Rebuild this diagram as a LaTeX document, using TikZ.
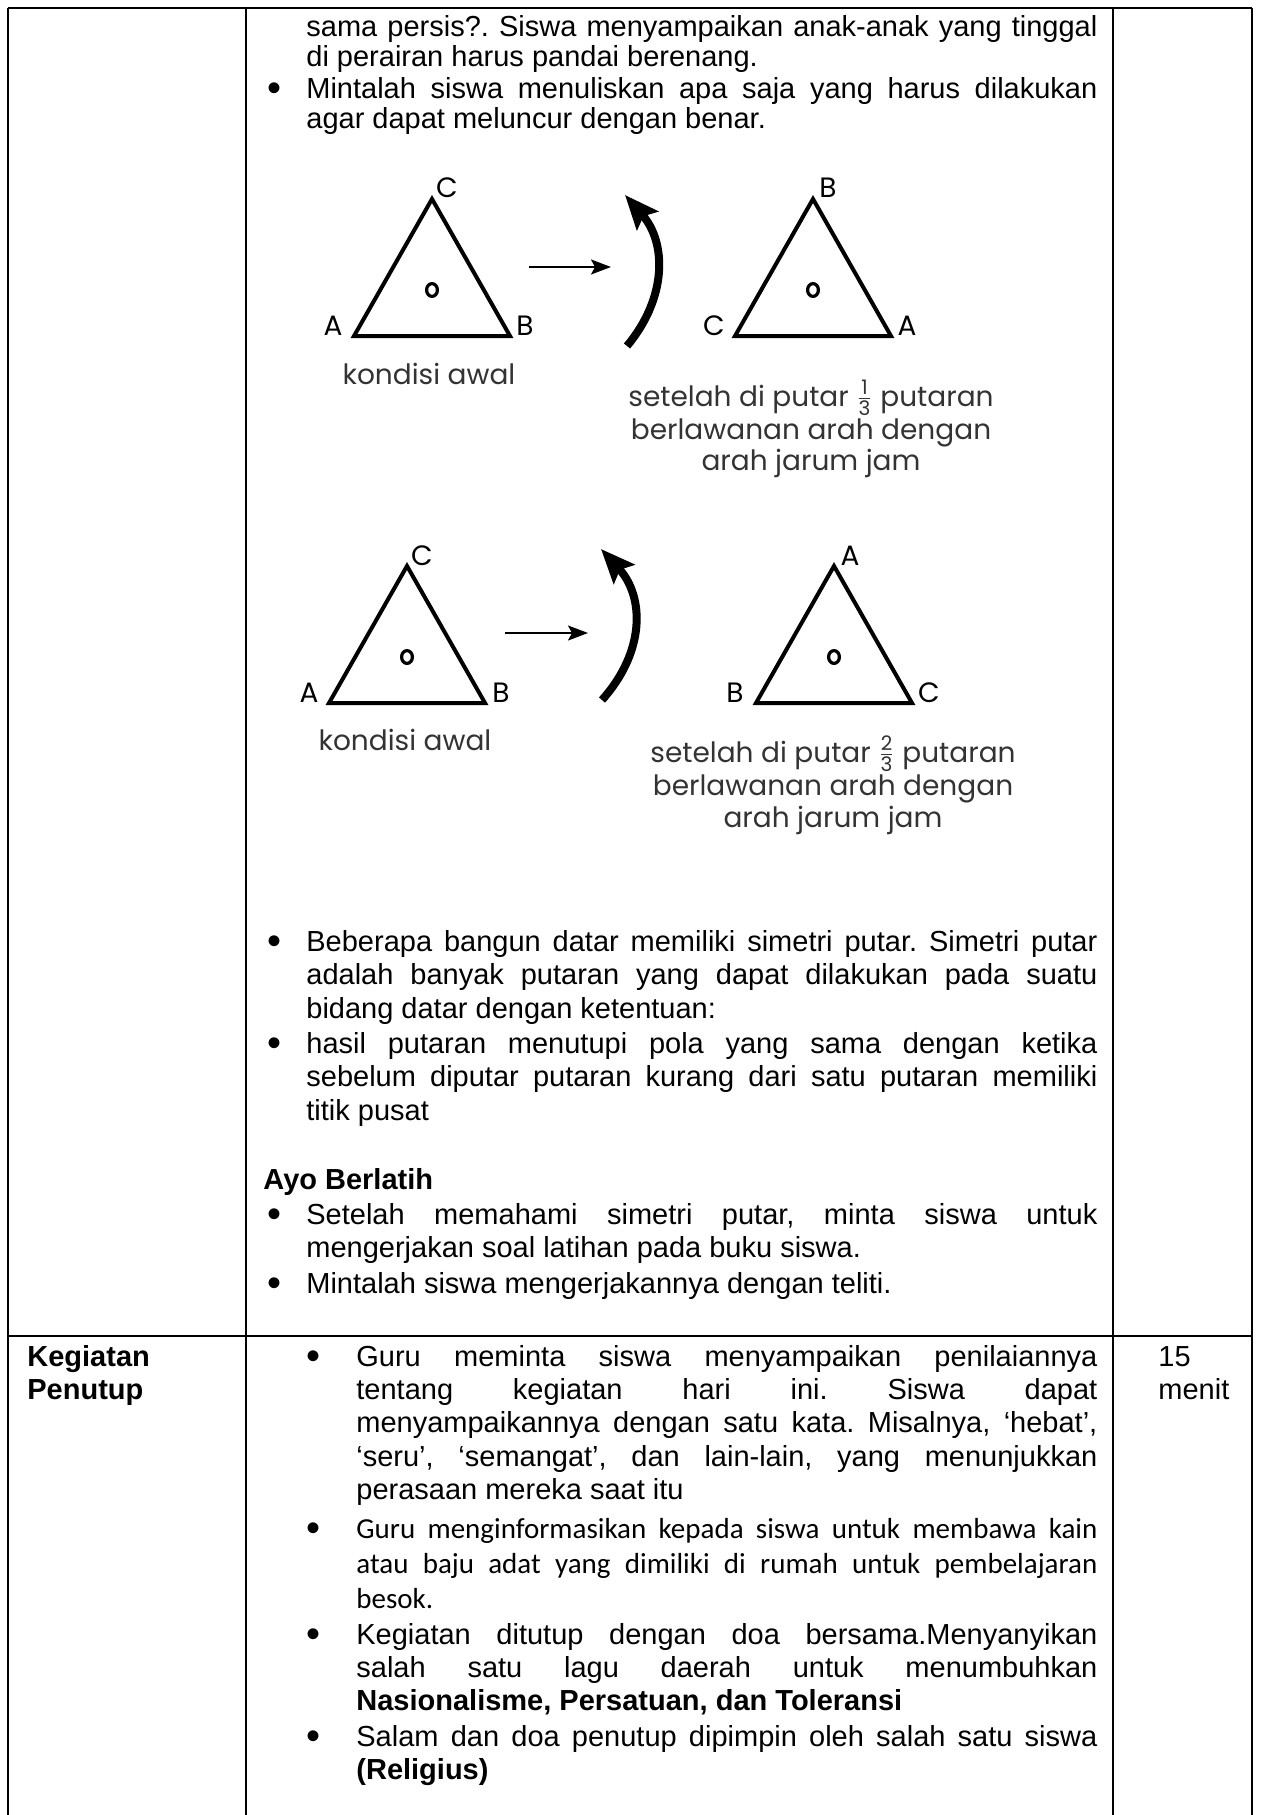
\documentclass[tikz,border=0pt]{standalone}
\usepackage{fontspec}
\setmainfont{Liberation Sans}
\newfontfamily\capfont{Poppins}
\newfontfamily\calfont{Carlito}
\usetikzlibrary{arrows.meta}

\tolerance=10000
\hyphenpenalty=10000
\frenchspacing

\newcommand\bodyfont{\fontsize{14.5}{16.7}\selectfont}
\newcommand\topfont{\fontsize{14.5}{15.25}\selectfont}
\newcommand\calibrifont{\calfont\fontsize{14.5}{17.5}\selectfont}
\newcommand\labfont{\capfont\fontsize{14}{14}\selectfont}
\newcommand\capsize{\capfont\fontsize{14}{16}\selectfont}
\newcommand\bull{\raisebox{-1.5pt}{\fontsize{20}{20}\selectfont\textbullet}}
\newcommand\putfrac[2]{$\frac{\mbox{\fontsize{10}{10}\selectfont #1}}{\mbox{\fontsize{10}{10}\selectfont #2}}$}

\begin{document}
\begin{tikzpicture}
    [x=0.5pt, y=-0.5pt,
    tabline/.style={line width=0.8pt},
    tabrule/.style={line width=1.3pt},
    body/.style={anchor=base west, inner sep=0pt, font=\bodyfont, text width=#1, align=justify},
    body/.default=395.5pt,
    bul/.style={anchor=base, inner sep=0pt, font=\bodyfont},
    tri/.style={line width=2pt, line join=miter},
    hole/.style={line width=1.6pt},
    lab/.style={inner sep=0pt, font=\labfont},
    capline/.style={anchor=base, inner sep=0pt, font=\capsize, text=black!80},
    flat/.style={line width=1pt, -{Stealth[length=10pt, width=7.5pt, inset=2pt]}},
    bent/.style={line width=4pt, -{Stealth[length=17pt, width=14pt, inset=3pt]}}]
    \useasboundingbox (0,0) rectangle (1260,1815);
    % table lines
    \draw[tabrule] (8,8) -- (1252,8);
    \draw[tabrule] (8,1336) -- (1252,1336);
    \draw[tabline] (8,8) -- (8,1815);
    \draw[tabline] (246,8) -- (246,1815);
    \draw[tabline] (1113,8) -- (1113,1815);
    \draw[tabline] (1252,8) -- (1252,1815);
    %		first row, top text
    \node[body, font=\topfont] (t1) at (306,36) {sama persis?. Siswa menyampaikan anak-anak yang tinggal\linebreak di perairan harus pandai berenang.};
    \node[bul] (b2) at (274,98) {\bull};
    \node[body, font=\topfont] (t2) at (306,98) {Mintalah siswa menuliskan apa saja yang harus dilakukan\linebreak agar dapat meluncur dengan benar.};
    % 1/3 turn
    \coordinate (pa1) at (354,336);
    \coordinate (pb1) at (510,336);
    \coordinate (pc1) at (432,199);
    \draw[tri] (pa1) -- (pb1) -- (pc1) -- cycle;
    \draw[hole] (432,290) ellipse[x radius=2.7pt, y radius=3.2pt];
    \node[lab] (la1) at (333,326) {A};
    \node[lab] (lb1) at (525,326) {B};
    \node[lab] (lc1) at (447,188) {C};
    \node[capline] (k1) at (429,384) {kondisi awal};
    \coordinate (as1) at (529,267);
    \coordinate (ae1) at (611,267);
    \draw[flat] (as1) -- (ae1);
    \coordinate (cs1) at (627,346);
    \coordinate (ce1) at (625,195);
    \draw[bent] (cs1) .. controls (667,298) and (667,243) .. (ce1);
    \coordinate (qc1) at (735,336);
    \coordinate (qa1) at (891,336);
    \coordinate (qb1) at (813,199);
    \draw[tri] (qc1) -- (qa1) -- (qb1) -- cycle;
    \draw[hole] (813,290) ellipse[x radius=2.7pt, y radius=3.2pt];
    \node[lab] (mc1) at (714,326) {C};
    \node[lab] (ma1) at (907,326) {A};
    \node[lab] (mb1) at (828,188) {B};
    \node[capline] (r1a) at (811,406) {setelah di putar \putfrac{1}{3} putaran};
    \node[capline] (r1b) at (811,439) {berlawanan arah dengan};
    \node[capline] (r1c) at (811,470) {arah jarum jam};
    % 2/3 turn
    \coordinate (pa2) at (329,703);
    \coordinate (pb2) at (485,703);
    \coordinate (pc2) at (407,566);
    \draw[tri] (pa2) -- (pb2) -- (pc2) -- cycle;
    \draw[hole] (407,657) ellipse[x radius=2.7pt, y radius=3.2pt];
    \node[lab] (la2) at (309,693) {A};
    \node[lab] (lb2) at (501,693) {B};
    \node[lab] (lc2) at (422,556) {C};
    \node[capline] (k2) at (405,750) {kondisi awal};
    \coordinate (as2) at (505,633);
    \coordinate (ae2) at (588,633);
    \draw[flat] (as2) -- (ae2);
    \coordinate (cs2) at (602,700);
    \coordinate (ce2) at (601,549);
    \draw[bent] (cs2) .. controls (645,652) and (645,597) .. (ce2);
    \coordinate (qb2) at (756,703);
    \coordinate (qc2) at (912,703);
    \coordinate (qa2) at (834,566);
    \draw[tri] (qb2) -- (qc2) -- (qa2) -- cycle;
    \draw[hole] (834,657) ellipse[x radius=2.7pt, y radius=3.2pt];
    \node[lab] (mb2) at (735,693) {B};
    \node[lab] (mc2) at (929,693) {C};
    \node[lab] (ma2) at (850,556) {A};
    \node[capline] (r2a) at (833,762) {setelah di putar \putfrac{2}{3} putaran};
    \node[capline] (r2b) at (833,795) {berlawanan arah dengan};
    \node[capline] (r2c) at (833,827) {arah jarum jam};
    %		first row, lower text
    \node[bul] (b3) at (274,951.5) {\bull};
    \node[body] (t3) at (306,951.5) {Beberapa bangun datar memiliki simetri putar. Simetri putar\linebreak adalah banyak putaran yang dapat dilakukan pada suatu\linebreak bidang datar dengan ketentuan:};
    \node[bul] (b4) at (274,1053.5) {\bull};
    \node[body] (t4) at (306,1053.5) {hasil putaran menutupi pola yang sama dengan ketika\linebreak sebelum diputar putaran kurang dari satu putaran memiliki\linebreak titik pusat};
    \node[anchor=base west, inner sep=0pt, font=\bodyfont\bfseries] (ayo) at (263,1189) {Ayo Berlatih};
    \node[bul] (b5) at (274,1224) {\bull};
    \node[body] (t5) at (306,1224) {Setelah memahami simetri putar, minta siswa untuk\linebreak mengerjakan soal latihan pada buku siswa.};
    \node[bul] (b6) at (274,1293) {\bull};
    \node[body] (t6) at (306,1293) {Mintalah siswa mengerjakannya dengan teliti.};
    %		second row
    \node[body=110pt, align=left, font=\bodyfont\bfseries] (kp) at (27,1366) {Kegiatan\\Penutup};
    \node[body=60pt, align=left] (mn) at (1158,1366) {15\\menit};
    \node[bul] (b7) at (313,1366) {\bull};
    \node[body=370.5pt] (t7) at (356,1366) {Guru meminta siswa menyampaikan penilaiannya\linebreak tentang kegiatan hari ini. Siswa dapat\linebreak menyampaikannya dengan satu kata. Misalnya, ‘hebat’,\linebreak ‘seru’, ‘semangat’, dan lain-lain, yang menunjukkan\linebreak perasaan mereka saat itu};
    \node[bul] (b8) at (313,1538) {\bull};
    \node[body=370.5pt, font=\calibrifont] (t8) at (356,1538) {Guru menginformasikan kepada siswa untuk membawa kain\linebreak atau baju adat yang dimiliki di rumah untuk pembelajaran\linebreak besok.};
    \node[bul] (b9) at (313,1644) {\bull};
    \node[body=370.5pt] (t9) at (356,1644) {Kegiatan ditutup dengan doa bersama.Menyanyikan\linebreak salah satu lagu daerah untuk menumbuhkan\linebreak \textbf{Nasionalisme, Persatuan, dan Toleransi}};
    \node[bul] (b10) at (313,1746) {\bull};
    \node[body=370.5pt] (t10) at (356,1746) {Salam dan doa penutup dipimpin oleh salah satu siswa\linebreak \textbf{(Religius)}};
\end{tikzpicture}
\end{document}
